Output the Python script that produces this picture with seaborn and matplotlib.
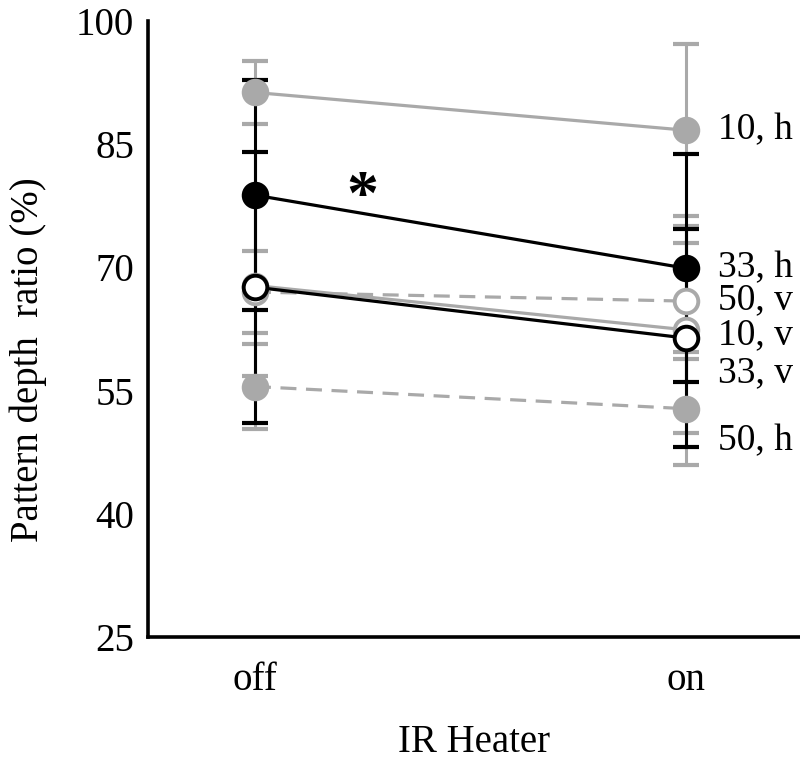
import matplotlib
matplotlib.use("Agg")
import matplotlib.pyplot as plt
import seaborn as sns
import pandas as pd

# ---- data ----
heater = ["off", "on"]
series = ["10, h", "33, h", "50, v", "10, v", "33, v", "50, h"]
off_vals = [91.3, 78.8, 67.0, 67.6, 67.8, 55.5]
on_vals = [86.7, 69.9, 65.9, 61.4, 62.4, 52.8]
off_err = [3.8, 14.0, 5.0, 16.5, 11.0, 5.2]
on_err = [10.5, 13.9, 7.1, 13.3, 12.6, 6.9]
label_y = [86.7, 69.9, 66.0, 61.8, 57.2, 48.9]
yticks = [25, 40, 55, 70, 85, 100]
star_pos = (0.25, 78.3)

# ---- styles ----
GRAY = "#a9a9a9"
style = {
    "10, h": dict(color=GRAY, ls="-", filled=True),
    "33, h": dict(color="black", ls="-", filled=True),
    "50, v": dict(color=GRAY, ls=(0, (5, 3)), filled=False),
    "10, v": dict(color="black", ls="-", filled=False),
    "33, v": dict(color=GRAY, ls="-", filled=False),
    "50, h": dict(color=GRAY, ls=(0, (5, 3)), filled=True),
}
draw_order = ["50, h", "50, v", "33, v", "10, h", "10, v", "33, h"]

df = pd.DataFrame({
    "heater": [heater[0]] * len(series) + [heater[1]] * len(series),
    "series": series * 2,
    "ratio": off_vals + on_vals,
    "err": off_err + on_err,
})

sns.set_style("white")
plt.rcParams["font.family"] = ["Liberation Serif", "DejaVu Serif"]
plt.rcParams["text.color"] = "black"
plt.rcParams["axes.labelcolor"] = "black"
plt.rcParams["xtick.color"] = "black"
plt.rcParams["ytick.color"] = "black"

fig = plt.figure(figsize=(8.0, 7.63), dpi=100)
ax = fig.add_axes([0.185, 0.165, 0.815, 0.8075])

for i, s in enumerate(draw_order):
    st = style[s]
    sub = df[df["series"] == s]
    xs = [0, 1]
    z = 2 + i
    ax.errorbar(xs, sub["ratio"].values, yerr=sub["err"].values, fmt="none",
                ecolor=st["color"], elinewidth=2.2, capsize=9.5, capthick=3,
                zorder=z)
for i, s in enumerate(draw_order):
    st = style[s]
    sub = df[df["series"] == s].copy()
    sub["x"] = [0, 1]
    z = 10 + i
    sns.lineplot(data=sub, x="x", y="ratio", ax=ax, color=st["color"],
                 linestyle=st["ls"], linewidth=2.3, marker="o", markersize=17,
                 markerfacecolor=st["color"] if st["filled"] else "white",
                 markeredgecolor=st["color"], markeredgewidth=2.8,
                 zorder=z, legend=False)

for s, ly in zip(series, label_y):
    ax.text(1.074, ly, s, ha="left", va="center", fontsize=27, color="black",
            zorder=30)

ax.text(star_pos[0], star_pos[1], "*", ha="center", va="center",
        fontsize=46, fontweight="bold", color="black", zorder=30)

ax.set_xlim(-0.248, 1.264)
ax.set_ylim(25, 100)
ax.set_yticks(yticks)
ax.set_xticks([0, 1])
ax.set_xticklabels(heater)
ax.tick_params(axis="both", direction="in", length=7, width=2.5,
               labelsize=28, pad=10, colors="black", labelcolor="black")
ax.tick_params(axis="x", pad=18)
for sp in ["top", "right"]:
    ax.spines[sp].set_visible(False)
for sp in ["left", "bottom"]:
    ax.spines[sp].set_linewidth(2.6)
    ax.spines[sp].set_color("black")
ax.set_xlabel("IR Heater", fontsize=28, labelpad=18, color="black")
ax.set_ylabel("Pattern depth  ratio (%)", fontsize=28, color="black")
ax.yaxis.set_label_coords(-0.155, 0.45)
ax.grid(False)

fig.savefig("out.png", dpi=100)
